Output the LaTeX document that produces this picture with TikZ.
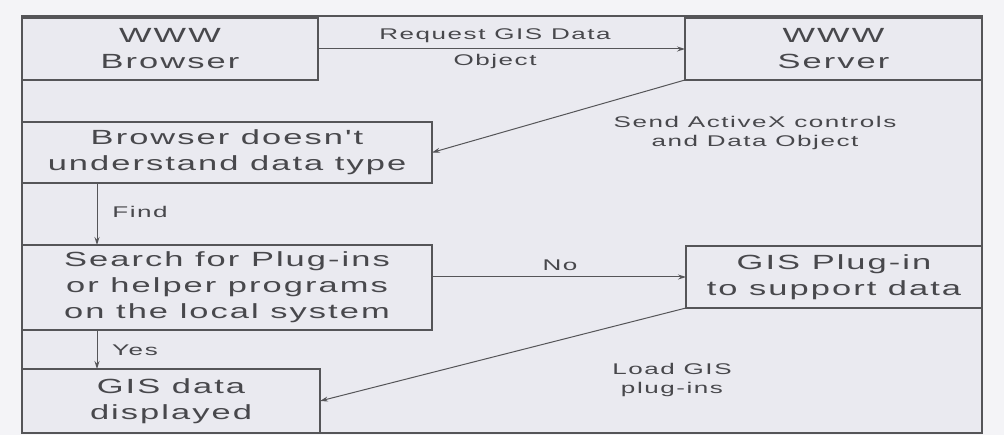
\documentclass[tikz,border=0pt]{standalone}
\usepackage{fontspec}
\setmainfont{Liberation Sans}
\newfontfamily\wfont[FakeStretch=1.68,LetterSpace=10]{Liberation Sans}
\usetikzlibrary{arrows.meta}
\definecolor{bgout}{HTML}{F4F4F7}
\definecolor{bgin}{HTML}{EAEAF0}
\definecolor{ln}{HTML}{555558}
\definecolor{txt}{HTML}{48484C}
\tikzset{
  box/.style={draw=ln, line width=1.4pt, fill=bgin, inner sep=0pt, outer sep=0pt,
    anchor=north west, align=center, text=txt,
    font=\wfont\fontsize{20.5}{26}\selectfont},
  arr/.style={draw=ln, line width=1pt, -{Stealth[length=8pt,width=5pt]}},
  lbl/.style={inner sep=0pt, align=center, text=txt,
    font=\wfont\fontsize{15.5}{19}\selectfont}
}
\begin{document}
\begin{tikzpicture}[x=1pt,y=-1pt]
\useasboundingbox (0,0) rectangle (1004,435);
\fill[bgout] (0,0) rectangle (1004,435);
\draw[ln, line width=1.2pt, fill=bgin] (22,16) rectangle (982,433);
\node[box, minimum width=296pt, minimum height=62pt] (browser) at (22,18) {WWW\\Browser};
\node[box, minimum width=297pt, minimum height=62pt] (server) at (685,18) {WWW\\Server};
\node[box, minimum width=410pt, minimum height=61pt] (dunno) at (22,122) {Browser doesn't\\understand data type};
\node[box, minimum width=410pt, minimum height=85pt] (search) at (22,245) {Search for Plug-ins\\or helper programs\\on the local system};
\node[box, minimum width=296pt, minimum height=62pt] (plugin) at (686,246) {GIS Plug-in\\to support data};
\node[box, minimum width=298pt, minimum height=64pt] (disp) at (22,369) {GIS data\\displayed};
\coordinate (fx) at (97,0);
\draw[arr] (browser.east) -- (server.west);
\draw[arr] (server.south west) -- (dunno.east);
\draw[arr] (dunno.south -| fx) -- (search.north -| fx);
\draw[arr] (search.east |- plugin.west) -- (plugin.west);
\draw[arr] (search.south -| fx) -- (disp.north -| fx);
\draw[arr] (plugin.south west) -- (disp.east);
\node[lbl] (lreq) at (495,36) {Request GIS Data};
\node[lbl] (lobj) at (495,61) {Object};
\node[lbl] (lsend) at (755,133) {Send ActiveX controls\\and Data Object};
\node[lbl] (lfind) at (140,212) {Find};
\node[lbl] (lno) at (560,265) {No};
\node[lbl] (lyes) at (135,350) {Yes};
\node[lbl] (lload) at (672,380) {Load GIS\\plug-ins};
\end{tikzpicture}
\end{document}
